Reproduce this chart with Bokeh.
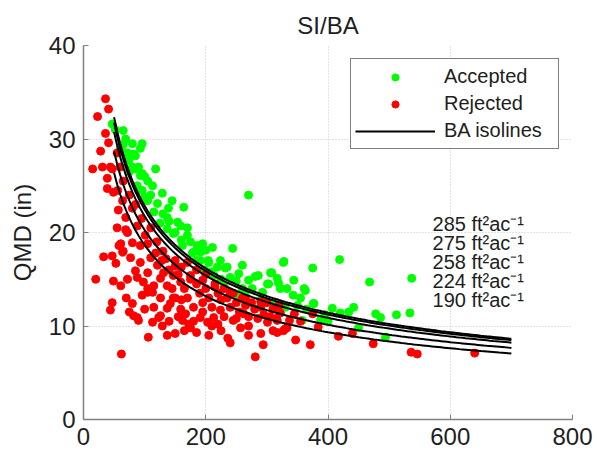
import numpy as np
from bokeh.plotting import figure
from bokeh.models import Range1d, FixedTicker, Legend, LegendItem, Label
from bokeh.embed import file_html
from bokeh.resources import INLINE

# ---------------- data ----------------
accepted_tpa = [47, 52, 65, 69, 80, 96, 93, 65, 85, 82, 74, 72, 90, 80, 118, 93, 96, 113, 105, 96,
                88, 100, 129, 145, 164, 139, 121, 105, 115, 130, 270, 154, 170, 137, 125, 159, 137, 147,
                170, 150, 186, 195, 211, 191, 205, 224, 244, 219, 235, 254, 240, 270, 286, 306, 327, 301,
                319, 344, 333, 343, 162, 178, 191, 213, 200, 180, 204, 232, 281, 308, 317, 303, 322, 361,
                293, 276, 249, 376, 407, 328, 375, 419, 363, 377, 468, 537, 420, 434, 442, 478, 486, 512,
                534, 494, 450, 358, 388, 175, 185, 198, 210, 225, 260, 265, 290, 310, 330, 350, 365, 395,
                400, 260, 230, 250, 160, 140, 110, 100, 75, 85, 60, 70, 355]
accepted_qmd = [31.6, 31.0, 30.9, 30.0, 29.5, 29.5, 29.0, 29.4, 28.2, 28.4, 27.7, 28.5, 27.0, 27.0, 26.8,
                26.1, 26.3, 25.0, 25.5, 24.5, 25.0, 23.8, 24.2, 23.4, 22.7, 22.6, 23.1, 23.4, 22.2, 22.0,
                24.0, 21.1, 20.5, 21.6, 21.0, 20.7, 20.4, 19.9, 19.7, 20.0, 18.6, 18.8, 18.4, 17.9, 16.8,
                17.0, 18.3, 16.3, 16.3, 15.6, 15.2, 14.9, 15.4, 15.7, 16.8, 14.5, 14.6, 14.9, 14.0, 13.3,
                18.6, 17.8, 17.0, 15.4, 18.1, 17.9, 17.0, 16.2, 15.3, 15.7, 15.1, 14.5, 14.0, 14.0, 13.6,
                14.0, 13.3, 12.4, 11.9, 16.9, 16.2, 17.1, 13.8, 12.4, 14.7, 15.1, 11.4, 11.5, 12.0, 11.3,
                10.9, 11.2, 11.4, 8.8, 9.8, 10.6, 10.7, 19.0, 17.0, 16.0, 15.8, 15.0, 14.0, 13.2, 12.8,
                12.5, 12.0, 12.2, 11.8, 11.2, 10.5, 16.5, 14.3, 14.8, 19.2, 21.2, 24.0, 26.0, 26.5, 26.8,
                29.0, 28.5, 13.0]

rejected_tpa = [36, 41, 23, 36, 41, 28, 15, 31, 44, 47, 39, 39, 49, 56, 64, 57, 69, 55, 69, 72, 61, 58,
                80, 64, 77, 93, 85, 105, 98, 115, 126, 137, 110, 121, 131, 147, 159, 93, 101, 88, 80, 105,
                33, 20, 49, 61, 72, 47, 53, 88, 105, 113, 96, 126, 137, 123, 129, 137, 150, 106, 113, 80,
                88, 82, 47, 44, 90, 62, 126, 142, 159, 167, 162, 105, 147, 172, 175, 191, 205, 203, 213,
                236, 240, 281, 294, 347, 245, 262, 224, 257, 301, 317, 317, 327, 333, 371, 330, 337, 384,
                375, 322, 417, 440, 474, 536, 546, 640,
                140, 145, 150, 155, 160, 165, 170, 175, 180, 185, 190, 195, 200, 205, 210, 215, 220, 225,
                230, 235, 240, 245, 250, 255, 260, 265, 270, 275, 280, 285, 290, 295, 300, 305, 310, 315,
                320, 345, 355, 180, 195, 220, 230, 250, 270, 185, 200, 170, 160, 150, 130, 120, 110, 95,
                85, 75, 65, 60, 55, 115, 100, 70, 75, 65, 140, 155, 165, 185, 210, 225, 270, 290, 310,
                135, 150, 175, 195, 215, 240, 265, 290, 118, 128]
rejected_qmd = [34.3, 33.2, 32.4, 30.6, 29.6, 28.7, 26.8, 27.0, 27.0, 26.8, 25.8, 24.7, 24.3, 24.5, 23.4,
                22.4, 21.6, 20.5, 20.3, 20.0, 18.8, 18.6, 18.9, 17.9, 17.3, 16.8, 15.9, 15.7, 14.7, 14.3,
                15.1, 14.3, 17.3, 16.5, 15.7, 15.4, 14.7, 18.6, 19.7, 20.7, 22.6, 18.8, 17.4, 15.0, 14.8,
                14.3, 15.0, 17.5, 16.7, 15.2, 14.0, 13.6, 13.3, 13.0, 11.9, 10.9, 10.0, 9.0, 9.2, 8.8,
                10.4, 12.4, 10.9, 11.1, 12.5, 11.7, 10.6, 7.0, 11.1, 12.4, 11.8, 11.3, 10.6, 13.6, 13.0,
                10.2, 9.8, 10.9, 9.0, 10.4, 10.9, 8.7, 8.2, 6.7, 8.0, 8.5, 10.6, 11.3, 11.7, 9.8, 10.4,
                10.6, 9.3, 9.5, 9.8, 8.0, 9.7, 10.6, 9.9, 11.3, 11.4, 8.9, 9.2, 8.1, 7.2, 7.0, 7.1,
                16.0, 14.0, 13.0, 15.5, 12.8, 14.0, 13.0, 15.0, 12.0, 14.5, 13.5, 12.5, 14.0, 13.0, 12.0,
                14.5, 13.5, 12.8, 14.0, 13.0, 12.0, 13.5, 12.5, 11.5, 13.0, 12.2, 11.0, 12.5, 11.8, 10.8,
                12.0, 11.2, 12.5, 11.0, 11.8, 10.8, 12.2, 11.3, 10.5, 10.5, 11.5, 10.2, 11.0, 10.8, 10.0,
                16.0, 15.5, 16.8, 16.3, 17.0, 18.0, 19.0, 20.5, 21.5, 23.0, 24.0, 25.5, 27.0, 28.5, 12.0,
                11.8, 13.0, 11.5, 18.0, 10.5, 11.0, 9.5, 9.3, 10.0, 9.5, 9.0, 9.2, 9.5,
                17.2, 16.4, 15.4, 14.9, 14.2, 13.6, 12.9, 12.6, 17.8, 17.0]

ba_levels = [285, 275, 258, 224, 190]          # ft^2/ac
isoline_tpa = np.arange(50, 701, 5)            # trees per acre grid for the isolines
BA_FACTOR = 0.005454                            # ft^2 per in^2 (basal area constant)

x_ticks = [0, 200, 400, 600, 800]
y_ticks = [0, 10, 20, 30, 40]

FONT = "Liberation Sans"
TXT = "#1e1e1e"

# ---------------- figure ----------------
p = figure(width=597, height=456, output_backend="svg", toolbar_location=None,
           x_range=Range1d(0, 800), y_range=Range1d(0, 40),
           min_border_left=83, min_border_right=25, min_border_top=45, min_border_bottom=37)
p.outline_line_color = None
p.background_fill_color = "white"
p.border_fill_color = "white"

p.title.text = "SI/BA"
p.title.align = "center"
p.title.text_font = FONT
p.title.text_font_size = "24px"
p.title.text_font_style = "normal"
p.title.text_color = TXT
p.title.standoff = 14

for ax, ticks in ((p.xaxis[0], x_ticks), (p.yaxis[0], y_ticks)):
    ax.ticker = FixedTicker(ticks=ticks)
    ax.major_label_text_font = FONT
    ax.major_label_text_font_size = "24px"
    ax.major_label_text_color = TXT
    ax.axis_line_color = "#808080"
    ax.axis_line_width = 1.5
    ax.major_tick_line_color = "#808080"
    ax.major_tick_in = 5
    ax.major_tick_out = 0
    ax.minor_tick_line_color = None
    ax.major_label_standoff = 8

p.yaxis.axis_label = "QMD (in)"
p.yaxis.axis_label_text_font = FONT
p.yaxis.axis_label_text_font_size = "24px"
p.yaxis.axis_label_text_font_style = "normal"
p.yaxis.axis_label_text_color = TXT
p.yaxis.axis_label_standoff = 10

for g in (p.xgrid[0], p.ygrid[0]):
    g.grid_line_color = "#c8c8c8"
    g.grid_line_dash = "1 2"
    g.grid_line_width = 1

r_acc = p.scatter(accepted_tpa, accepted_qmd, size=8, marker="circle",
                  fill_color="#00ff00", line_color="#00ff00")
r_rej = p.scatter(rejected_tpa, rejected_qmd, size=8, marker="circle",
                  fill_color="#ff0000", line_color="#ff0000")

line_renderers = []
for ba in ba_levels:
    qmd = np.sqrt(ba / (BA_FACTOR * isoline_tpa))
    line_renderers.append(p.line(isoline_tpa, qmd, line_color="black", line_width=2))

# isoline labels
label_x = 571
label_top = 20.9
label_step = 2.03
for i, ba in enumerate(ba_levels):
    p.add_layout(Label(x=label_x, y=label_top - i * label_step,
                       text=f"{ba} ft\u00b2ac\u207b\u00b9",
                       text_font=FONT, text_font_size="20px", text_color=TXT,
                       text_baseline="middle", text_align="left"))

legend = Legend(items=[LegendItem(label="Accepted", renderers=[r_acc]),
                       LegendItem(label="Rejected", renderers=[r_rej]),
                       LegendItem(label="BA isolines", renderers=[line_renderers[0]])],
                location="top_right")
legend.label_text_font = FONT
legend.label_text_font_size = "20px"
legend.label_text_color = TXT
legend.border_line_color = "black"
legend.border_line_width = 1
legend.background_fill_alpha = 1
legend.padding = 4
legend.spacing = 0
legend.margin = 13
legend.glyph_height = 18
legend.glyph_width = 80
legend.label_standoff = 9
legend.label_height = 27
legend.label_width = 110
p.add_layout(legend)

open("out.html", "w").write(file_html(p, INLINE))
